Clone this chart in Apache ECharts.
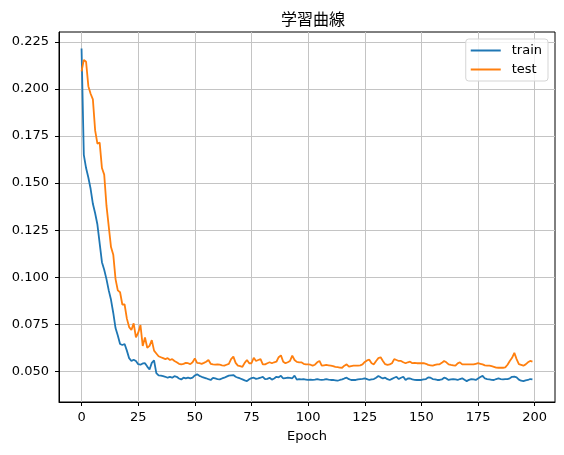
<!DOCTYPE html>
<html>
<head>
<meta charset="utf-8">
<script src="https://cdn.jsdelivr.net/npm/echarts@6/dist/echarts.min.js"></script>
<style>
html,body{margin:0;padding:0;background:#fff;}
#c{width:564px;height:455px;}
</style>
</head>
<body>
<div id="c"></div>
<script>
var titleText = '学習曲線';
var xName = 'Epoch';
var seriesNames = ['train', 'test'];
var xTicks = [0, 25, 50, 75, 100, 125, 150, 175, 200];
var yTicks = [0.050, 0.075, 0.100, 0.125, 0.150, 0.175, 0.200, 0.225];

var train = [
0.2215, 0.165, 0.158, 0.153, 0.147, 0.139, 0.134, 0.128, 0.118, 0.108,
0.104, 0.099, 0.093, 0.088, 0.081, 0.073, 0.069, 0.0645, 0.064, 0.0645,
0.061, 0.057, 0.0555, 0.0562, 0.0555, 0.0538, 0.0535, 0.0542, 0.0543, 0.0525,
0.051, 0.0545, 0.0558, 0.049, 0.0478, 0.0477, 0.0474, 0.0471, 0.0466, 0.0470,
0.0466, 0.0474, 0.0471, 0.0462, 0.0457, 0.0466, 0.0462, 0.0466, 0.0462, 0.0466,
0.0478, 0.0484, 0.0476, 0.0471, 0.0467, 0.0463, 0.0458, 0.0454, 0.0465, 0.0462,
0.0459, 0.0457, 0.0462, 0.0466, 0.0472, 0.0477, 0.0479, 0.0480, 0.0471, 0.0466,
0.0462, 0.0457, 0.0452, 0.0448, 0.0458, 0.0464, 0.0466, 0.0460, 0.0462, 0.0466,
0.0471, 0.0458, 0.0460, 0.0466, 0.0456, 0.0462, 0.0471, 0.0468, 0.0476, 0.0462,
0.0464, 0.0466, 0.0465, 0.0463, 0.0477, 0.0456, 0.0458, 0.0457, 0.0458, 0.0456,
0.0454, 0.0456, 0.0454, 0.0456, 0.0459, 0.0456, 0.0454, 0.0456, 0.0459, 0.0456,
0.0454, 0.0454, 0.0452, 0.0450, 0.0454, 0.0457, 0.0462, 0.0466, 0.0458, 0.0454,
0.0454, 0.0454, 0.0457, 0.0459, 0.0460, 0.0462, 0.0458, 0.0454, 0.0457, 0.0459,
0.0466, 0.0475, 0.0468, 0.0462, 0.0466, 0.0458, 0.0454, 0.0460, 0.0466, 0.0471,
0.0459, 0.0466, 0.0471, 0.0454, 0.0462, 0.0462, 0.0457, 0.0455, 0.0454, 0.0454,
0.0454, 0.0457, 0.0459, 0.0468, 0.0466, 0.0459, 0.0457, 0.0454, 0.0454, 0.0457,
0.0466, 0.0462, 0.0454, 0.0457, 0.0459, 0.0457, 0.0454, 0.0459, 0.0463, 0.0455,
0.0448, 0.0455, 0.0459, 0.0457, 0.0454, 0.0462, 0.0470, 0.0476, 0.0462, 0.0459,
0.0457, 0.0455, 0.0454, 0.0459, 0.0462, 0.0459, 0.0457, 0.0459, 0.0459, 0.0463,
0.0471, 0.0472, 0.0468, 0.0456, 0.0450, 0.0448, 0.0452, 0.0454, 0.0459, 0.0457
];

var test = [
0.2094, 0.2155, 0.2145, 0.2015, 0.1975, 0.1945, 0.178, 0.171, 0.1715, 0.158,
0.1545, 0.138, 0.127, 0.116, 0.112, 0.099, 0.093, 0.092, 0.0855, 0.0855,
0.078, 0.0735, 0.072, 0.0755, 0.068, 0.0705, 0.0746, 0.0635, 0.068, 0.0625,
0.0635, 0.0666, 0.061, 0.0595, 0.058, 0.0575, 0.057, 0.0565, 0.057, 0.056,
0.0565, 0.0555, 0.0548, 0.054, 0.0537, 0.054, 0.0545, 0.0543, 0.0538, 0.0548,
0.0569, 0.0545, 0.0543, 0.0540, 0.0545, 0.0551, 0.056, 0.054, 0.0537, 0.0535,
0.0537, 0.0535, 0.0532, 0.053, 0.0535, 0.054, 0.0565, 0.0578, 0.0545, 0.053,
0.0528, 0.0524, 0.0545, 0.056, 0.0543, 0.0543, 0.0572, 0.0555, 0.056, 0.0565,
0.0537, 0.0537, 0.0543, 0.0548, 0.0543, 0.0548, 0.0551, 0.0575, 0.0585, 0.0551,
0.0543, 0.0548, 0.0555, 0.0583, 0.056, 0.055, 0.0548, 0.0548, 0.054, 0.0537,
0.0537, 0.0535, 0.053, 0.0535, 0.0548, 0.0555, 0.053, 0.0532, 0.0534, 0.0532,
0.053, 0.0528, 0.0524, 0.0522, 0.052, 0.0519, 0.053, 0.0537, 0.0525, 0.0528,
0.053, 0.053, 0.053, 0.0532, 0.0537, 0.055, 0.0558, 0.0562, 0.0543, 0.0537,
0.0555, 0.057, 0.0575, 0.0555, 0.0538, 0.0534, 0.0537, 0.0543, 0.0565, 0.056,
0.0555, 0.0555, 0.0548, 0.0543, 0.0548, 0.0551, 0.0543, 0.0545, 0.0543, 0.0543,
0.0543, 0.0543, 0.054, 0.0534, 0.0532, 0.053, 0.0534, 0.0537, 0.0537, 0.0545,
0.0555, 0.0548, 0.0537, 0.0534, 0.0532, 0.053, 0.0542, 0.0548, 0.0537, 0.0537,
0.0537, 0.0537, 0.0537, 0.0537, 0.054, 0.0543, 0.054, 0.0537, 0.0532, 0.053,
0.053, 0.0527, 0.0524, 0.052, 0.0519, 0.0519, 0.0519, 0.0521, 0.0535, 0.0555,
0.0572, 0.0598, 0.0565, 0.0538, 0.0534, 0.053, 0.0537, 0.0548, 0.0555, 0.0551
];

var epochs = train.map(function (v, i) { return i; });

function pairs(arr) {
  return arr.map(function (v, i) { return [epochs[i], v]; });
}

var numFont = 'DejaVu Sans';
var chart = echarts.init(document.getElementById('c'), null, {renderer: 'canvas'});
chart.setOption({
  animation: false,
  backgroundColor: '#ffffff',
  title: {
    text: titleText,
    left: 308,
    textAlign: 'center',
    top: 6,
    textStyle: {fontFamily: 'Noto Sans CJK JP', fontSize: 16, fontWeight: 'normal', color: '#000'}
  },
  legend: {
    orient: 'vertical',
    right: 16,
    top: 39,
    padding: [5, 6, 5, 4],
    itemWidth: 30,
    itemHeight: 14,
    itemGap: 6,
    backgroundColor: 'rgba(255,255,255,0.8)',
    borderColor: '#d5d5d5',
    borderWidth: 1,
    borderRadius: 3,
    itemStyle: {opacity: 0},
    textStyle: {fontFamily: numFont, fontSize: 13, color: '#000', padding: [0, 0, 0, 6]},
    data: seriesNames
  },
  grid: {
    left: 59, top: 32, right: 9, bottom: 53,
    show: true, borderColor: '#000', borderWidth: 1, containLabel: false
  },
  xAxis: {
    type: 'value',
    min: -9.95,
    max: 208.95,
    name: xName,
    nameLocation: 'middle',
    nameGap: 28,
    nameTextStyle: {fontFamily: numFont, fontSize: 13, color: '#000'},
    axisLine: {show: true, onZero: false, lineStyle: {color: '#000', width: 1}},
    axisTick: {show: true, inside: false, length: 4, customValues: xTicks, lineStyle: {color: '#000'}},
    axisLabel: {show: true, margin: 9, customValues: xTicks, fontFamily: numFont, fontSize: 13, color: '#000',
      formatter: function (v) { return String(Math.round(v)); }},
    splitLine: {show: true, lineStyle: {color: '#c4c4c4', width: 1}}
  },
  yAxis: {
    type: 'value',
    min: 0.0337,
    max: 0.2303,
    axisLine: {show: true, onZero: false, lineStyle: {color: '#000', width: 1}},
    axisTick: {show: true, inside: false, length: 4, customValues: yTicks, lineStyle: {color: '#000'}},
    axisLabel: {show: true, margin: 10, customValues: yTicks, fontFamily: numFont, fontSize: 13, color: '#000',
      formatter: function (v) { return v.toFixed(3); }},
    splitLine: {show: true, lineStyle: {color: '#c4c4c4', width: 1}}
  },
  series: [
    {
      name: seriesNames[0], type: 'line', data: pairs(train),
      symbol: 'none', showSymbol: false,
      lineStyle: {color: '#1f77b4', width: 1.8},
      itemStyle: {color: '#1f77b4'},
      z: 3
    },
    {
      name: seriesNames[1], type: 'line', data: pairs(test),
      symbol: 'none', showSymbol: false,
      lineStyle: {color: '#ff7f0e', width: 1.8},
      itemStyle: {color: '#ff7f0e'},
      z: 4
    }
  ]
});
</script>
</body>
</html>
